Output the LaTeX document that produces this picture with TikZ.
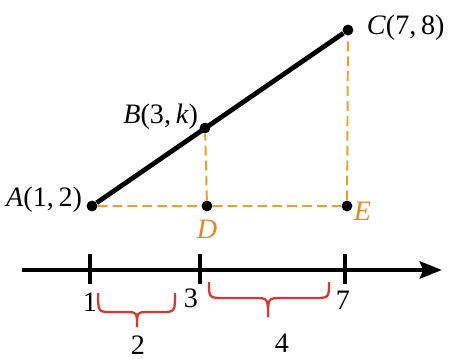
\documentclass[tikz,border=0pt]{standalone}
\usepackage{fontspec}
\setmainfont{Liberation Serif}
\usetikzlibrary{arrows.meta}
\definecolor{guide}{RGB}{232,162,44}
\definecolor{guidetext}{RGB}{224,140,36}
\definecolor{bracered}{RGB}{222,52,52}

\begin{document}
\begin{tikzpicture}[x=0.025cm, y=-0.025cm, every node/.style={font=\fontsize{20}{24}\selectfont}]
    \tikzset{pt/.style={circle, fill=black, inner sep=0pt, minimum size=0.27cm}}
    \tikzset{tck/.style={rectangle, fill=black, inner sep=0pt, minimum width=0.1cm, minimum height=0.75cm}}
    \tikzset{guideline/.style={guide, line width=1.4pt, dash pattern=on 7pt off 3.6pt}}
    \tikzset{brc/.style={bracered, line width=1.6pt}}
    \useasboundingbox (0,0) rectangle (451,359);
    % points
    \node[pt] (A) at (92,206) {};
    \node[pt] (B) at (205,128) {};
    \node[pt] (C) at (348,30) {};
    \node[pt] (D) at (207,206) {};
    \node[pt] (E) at (347,206) {};
    \node[anchor=east] (la) at (87,200) {\textit{A}(1,\,2)};
    \node[anchor=east] (lb) at (203,117) {\textit{B}(3,\,\textit{k})};
    \node[anchor=west] (lc) at (362,28) {\textit{C}(7,\,8)};
    \node[guidetext] (ld) at (207,229) {\textit{D}};
    \node[guidetext, anchor=west] (le) at (349,211) {\textit{E}};
    \draw[line width=3.4pt] (A) -- (C);
    \draw[guideline] (A) -- (D) (D) -- (E) (D) -- (B) (E) -- (C);
    % number line
    \coordinate (x0) at (22,270);
    \coordinate (x1) at (442,270);
    \draw[line width=3.4pt, -{Stealth[length=0.55cm, width=0.42cm, inset=0.08cm]}] (x0) -- (x1);
    \node[tck] (t1) at (90,269) {};
    \node[tck] (t3) at (200,269) {};
    \node[tck] (t7) at (345,269) {};
    \node (n1) at (90,302) {1};
    \node (n3) at (191,298) {3};
    \node (n7) at (343,300) {7};
    % braces
    \draw[brc] (98,293) .. controls (98,312) .. (112,312) -- (126,312) .. controls (137,312) .. (137,327) .. controls (137,312) .. (148,312) -- (161,312) .. controls (175,312) .. (175,293);
    \draw[brc] (209,282) .. controls (209,298) .. (224,298) -- (254,298) .. controls (268,298) .. (268,317) .. controls (268,298) .. (282,298) -- (314,298) .. controls (329,298) .. (329,282);
    \node (d2) at (138,345) {2};
    \node (d4) at (282,343) {4};
\end{tikzpicture}
\end{document}
